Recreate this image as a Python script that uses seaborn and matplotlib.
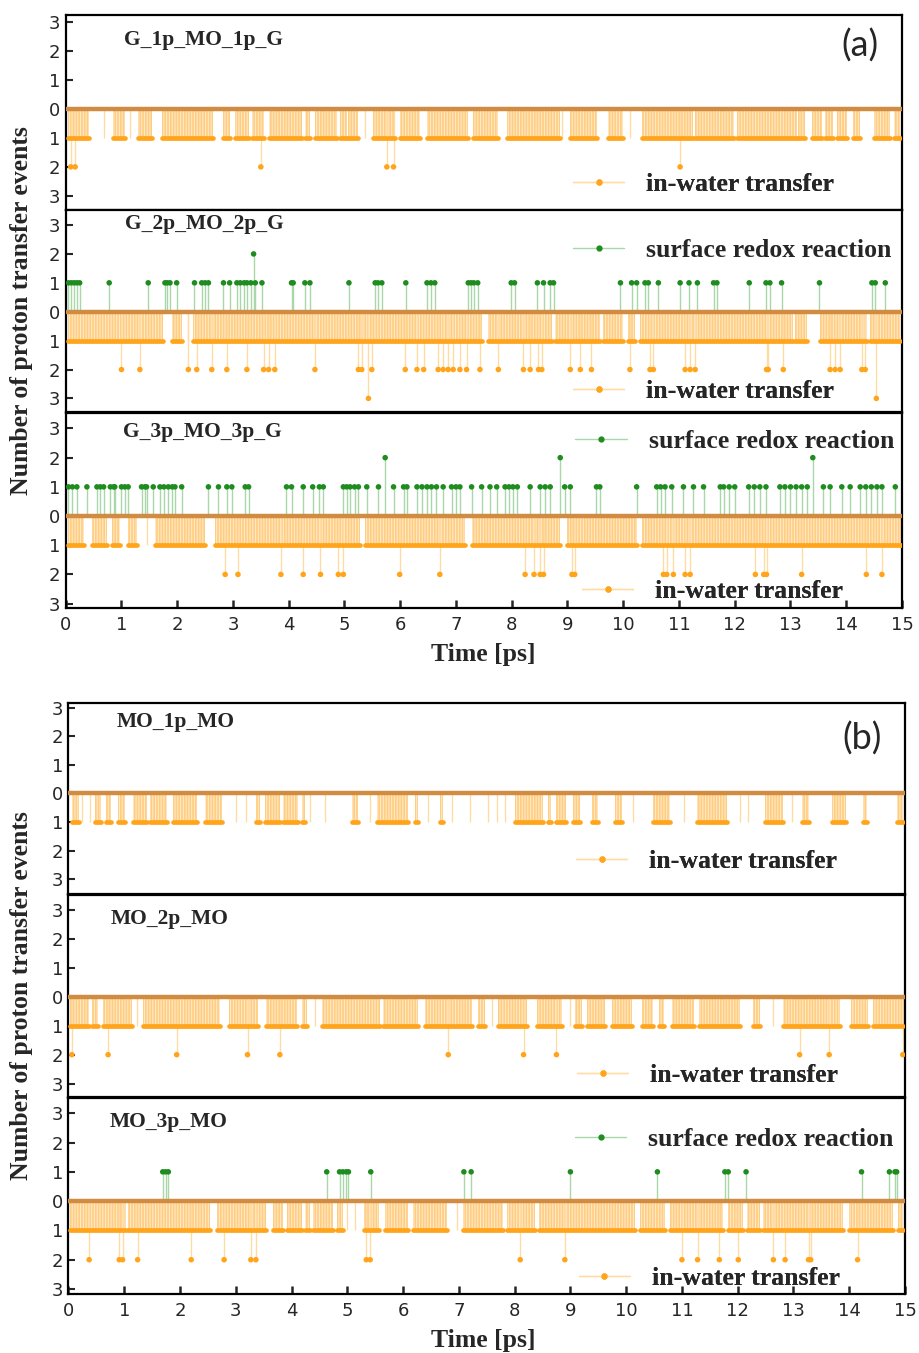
import matplotlib
matplotlib.use("Agg")
import matplotlib.pyplot as plt
from matplotlib.lines import Line2D
from matplotlib.font_manager import FontProperties
import numpy as np
import seaborn as sns

# ---------------------------------------------------------------------------
# data (times in ps)
# runs of consecutive single in-water transfers (start, end); start == end is a lone event
a1_water_runs = [(0.05, 0.41), (0.69, 0.69), (0.85, 1.06), (1.15, 1.15), (1.30, 1.54), (1.72, 2.65),
                 (2.82, 2.95), (3.04, 3.28), (3.34, 3.55), (3.64, 4.23), (4.29, 4.38), (4.47, 4.86),
                 (4.92, 5.04), (5.07, 5.25), (5.37, 5.37), (5.52, 5.91), (6.00, 6.36), (6.48, 7.22),
                 (7.31, 7.76), (7.91, 8.87), (8.90, 8.90), (9.05, 9.53), (9.73, 10.00), (10.12, 10.12),
                 (10.33, 11.26), (11.29, 11.98), (12.04, 13.11), (13.14, 13.26), (13.38, 13.56),
                 (13.62, 13.77), (13.83, 14.01), (14.13, 14.25), (14.49, 14.79), (14.85, 14.97)]
a1_water_2 = [0.09, 0.17, 3.50, 5.76, 5.88, 11.02]
a1_water_3 = []
a1_redox_1 = []
a1_redox_2 = []

a2_water_runs = [(0.05, 1.75), (1.90, 2.08), (2.20, 2.20), (2.29, 7.46), (7.58, 8.72), (8.78, 9.58),
                 (9.64, 10.00), (10.09, 10.21), (10.30, 13.05), (13.08, 13.29), (13.53, 14.37),
                 (14.43, 14.96)]
a2_water_2 = [1.00, 1.33, 2.20, 2.35, 2.62, 2.89, 3.25, 3.55, 3.64, 3.75, 4.47, 5.25, 5.31, 5.49,
              6.09, 6.30, 6.42, 6.68, 6.77, 6.86, 6.95, 7.07, 7.19, 7.43, 7.76, 8.21, 8.33, 8.48,
              8.54, 9.05, 9.23, 9.43, 10.12, 10.48, 10.54, 11.11, 11.20, 11.29, 12.57, 12.60,
              12.87, 13.71, 13.80, 13.89, 14.28, 14.34]
a2_water_3 = [5.43, 14.54]
a2_redox_1 = [0.05, 0.10, 0.15, 0.20, 0.25, 0.78, 1.48, 1.78, 1.82, 1.87, 1.99, 2.31, 2.44, 2.50,
              2.56, 2.83, 2.94, 3.07, 3.13, 3.20, 3.25, 3.32, 3.40, 3.52, 4.05, 4.08, 4.29, 4.38,
              5.08, 5.55, 5.60, 5.67, 6.10, 6.48, 6.55, 6.62, 7.22, 7.27, 7.32, 7.39, 7.99, 8.05,
              8.46, 8.57, 8.69, 8.75, 9.95, 10.15, 10.24, 10.39, 10.45, 10.63, 11.02, 11.18, 11.33,
              11.62, 11.68, 12.26, 12.56, 12.63, 12.84, 13.52, 14.46, 14.52, 14.70]
a2_redox_2 = [3.37]

a3_water_runs = [(0.05, 0.32), (0.47, 0.74), (0.83, 0.97), (1.12, 1.27), (1.45, 1.45), (1.60, 2.50),
                 (2.68, 5.28), (5.37, 7.16), (7.28, 8.87), (9.00, 10.24), (10.33, 15.00)]
a3_water_2 = [2.86, 3.09, 3.86, 4.26, 4.57, 4.89, 4.98, 5.99, 6.71, 8.24, 8.40, 8.51, 8.57, 9.08,
              9.13, 10.72, 10.78, 10.90, 11.11, 11.20, 12.37, 12.52, 12.57, 13.20, 14.36, 14.64]
a3_water_3 = []
a3_redox_1 = [0.05, 0.12, 0.20, 0.38, 0.56, 0.62, 0.68, 0.80, 0.86, 0.88, 1.00, 1.06, 1.12, 1.36,
              1.42, 1.45, 1.57, 1.69, 1.76, 1.84, 1.91, 1.96, 2.08, 2.56, 2.74, 2.89, 2.98, 3.22,
              3.28, 3.96, 4.05, 4.26, 4.43, 4.55, 4.62, 4.98, 5.04, 5.10, 5.18, 5.25, 5.40, 5.61,
              5.88, 6.06, 6.12, 6.30, 6.39, 6.48, 6.56, 6.65, 6.77, 6.92, 7.00, 7.07, 7.28, 7.46,
              7.61, 7.73, 7.88, 7.95, 8.02, 8.10, 8.33, 8.51, 8.60, 8.69, 8.95, 9.05, 9.52, 9.58,
              10.24, 10.60, 10.67, 10.75, 10.87, 11.08, 11.26, 11.44, 11.74, 11.80, 11.90, 12.00,
              12.25, 12.35, 12.45, 12.56, 12.81, 12.90, 13.00, 13.10, 13.20, 13.30, 13.59, 13.71,
              13.92, 14.07, 14.25, 14.35, 14.45, 14.55, 14.64, 14.88]
a3_redox_2 = [5.73, 8.87, 13.40]

b1_water_runs = [(0.06, 0.18), (0.24, 0.24), (0.39, 0.39), (0.48, 0.59), (0.68, 0.77), (0.89, 1.01),
                 (1.16, 1.40), (1.46, 1.76), (1.88, 2.30), (2.45, 2.75), (3.00, 3.00), (3.18, 3.18),
                 (3.37, 3.43), (3.52, 3.79), (3.85, 4.12), (4.18, 4.24), (4.33, 4.33), (4.60, 4.60),
                 (5.08, 5.20), (5.40, 5.40), (5.53, 6.09), (6.21, 6.27), (6.45, 6.45), (6.66, 6.72),
                 (6.87, 6.87), (7.20, 7.20), (7.53, 7.53), (7.68, 7.68), (7.83, 7.83), (8.01, 8.51),
                 (8.60, 8.66), (8.75, 8.93), (9.05, 9.17), (9.38, 9.50), (9.80, 9.92), (10.13, 10.13),
                 (10.49, 10.79), (11.03, 11.03), (11.27, 11.80), (12.04, 12.04), (12.19, 12.19),
                 (12.49, 12.82), (12.97, 12.97), (13.15, 13.27), (13.69, 13.95), (14.25, 14.31),
                 (14.85, 14.97)]
b1_water_2 = []
b1_water_3 = []
b1_redox_1 = []
b1_redox_2 = []

b2_water_runs = [(0.03, 0.36), (0.42, 0.53), (0.62, 1.13), (1.22, 1.22), (1.34, 2.72), (2.87, 3.40),
                 (3.55, 4.09), (4.18, 4.27), (4.42, 4.42), (4.54, 5.59), (5.64, 6.27), (6.39, 7.23),
                 (7.35, 7.47), (7.59, 7.59), (7.71, 8.22), (8.40, 8.85), (9.00, 9.00), (9.08, 9.20),
                 (9.29, 9.62), (9.74, 10.10), (10.28, 10.49), (10.58, 10.67), (10.82, 11.21),
                 (11.30, 12.04), (12.28, 12.40), (12.64, 12.64), (12.82, 13.84), (14.04, 14.34),
                 (14.43, 14.97)]
b2_water_2 = [0.06, 0.71, 1.94, 3.21, 3.79, 6.81, 8.16, 8.75, 13.11, 13.64, 14.96]
b2_water_3 = []
b2_redox_1 = []
b2_redox_2 = []

b3_water_runs = [(0.03, 1.04), (1.07, 2.54), (2.66, 3.55), (3.67, 3.85), (3.91, 4.18), (4.24, 4.33),
                 (4.39, 4.75), (4.81, 4.93), (4.99, 4.99), (5.14, 5.14), (5.29, 5.56), (5.68, 6.09),
                 (6.18, 6.78), (6.96, 6.96), (7.08, 7.80), (7.86, 8.37), (8.43, 10.16), (10.25, 10.70),
                 (10.79, 11.74), (11.83, 12.10), (12.16, 12.40), (12.46, 13.89), (14.00, 14.79),
                 (14.88, 14.97)]
b3_water_2 = [0.37, 0.91, 0.97, 1.24, 2.20, 2.79, 3.27, 3.36, 5.34, 5.41, 8.10, 8.90, 11.00, 11.28,
              11.67, 12.01, 12.64, 12.85, 13.27, 13.31, 14.15]
b3_water_3 = []
b3_redox_1 = [1.69, 1.74, 1.79, 4.63, 4.86, 4.92, 4.98, 5.02, 5.42, 7.09, 7.22, 9.00, 10.56, 11.77,
              11.83, 12.15, 14.22, 14.72, 14.82, 14.85]
b3_redox_2 = []

panel_titles = ["G_1p_MO_1p_G", "G_2p_MO_2p_G", "G_3p_MO_3p_G",
                "MO_1p_MO", "MO_2p_MO", "MO_3p_MO"]
x_ticks = list(range(0, 16))
y_ticks = [-3, -2, -1, 0, 1, 2, 3]

# ---------------------------------------------------------------------------
# style
sns.set_style("ticks")
plt.rcParams["font.family"] = ["DejaVu Sans"]
plt.rcParams["hatch.linewidth"] = 1.2

ORANGE = "#ffa41b"
ORANGE_LIGHT = "#ffdca6"
STEM_FACE = "#ffe9c8"
STEM_HATCH = "#ffcd80"
ZERO_LINE = "#d08c42"
GREEN = "#1f8c1f"
GREEN_LIGHT = "#a9d7a9"
SERIF_B = FontProperties(family="Liberation Serif", weight="bold", size=18.5)
TITLE_B = FontProperties(family="Liberation Serif", weight="bold", size=15.5)

W, H = 920, 1353
fig = plt.figure(figsize=(W / 100, H / 100), dpi=100)


def add_axes_px(left, top, right, bottom):
    return fig.add_axes([left / W, 1 - bottom / H, (right - left) / W, (bottom - top) / H])


def draw_panel(ax, runs, w2, w3, r1, r2, title, title_xy, ylim, legends, bottom):
    # light stems of the single transfers
    for s, e in runs:
        if e > s:
            ax.fill_between([s, e], 0, -1, facecolor=STEM_FACE, edgecolor=STEM_HATCH,
                            hatch="||||||", lw=0, zorder=1)
        else:
            ax.vlines(s, -1, 0, color=ORANGE_LIGHT, lw=1, zorder=1)
    if w2:
        ax.vlines(w2, -2, 0, color=ORANGE_LIGHT, lw=1, zorder=1)
    if w3:
        ax.vlines(w3, -3, 0, color=ORANGE_LIGHT, lw=1, zorder=1)
    if r1:
        ax.vlines(r1, 0, 1, color=GREEN_LIGHT, lw=1, zorder=1)
    if r2:
        ax.vlines(r2, 0, 2, color=GREEN_LIGHT, lw=1, zorder=1)

    ax.axhline(0, color=ZERO_LINE, lw=3.2, zorder=3)

    lc = ax.hlines([-1] * len(runs), [s for s, e in runs], [e for s, e in runs],
                   color=ORANGE, lw=3.4, zorder=4)
    lc.set_capstyle("round")

    for ts, lev, col in [(w2, -2, ORANGE), (w3, -3, ORANGE), (r1, 1, GREEN), (r2, 2, GREEN)]:
        if ts:
            sns.scatterplot(x=ts, y=[lev] * len(ts), color=col, s=16, edgecolor="none",
                            ax=ax, legend=False, zorder=5)

    ax.set_xlim(0, 15)
    ax.set_ylim(*ylim)
    ax.set_yticks(y_ticks)
    ax.set_yticklabels([str(abs(v)) for v in y_ticks], fontsize=13)
    ax.set_xticks(x_ticks)
    ax.set_xticklabels([str(v) for v in x_ticks], fontsize=13)
    ax.tick_params(axis="y", direction="in", length=5, width=1.5, pad=4)
    ax.tick_params(axis="x", direction="in", length=6, width=1.8, pad=6,
                   bottom=bottom, labelbottom=bottom)
    for sp in ax.spines.values():
        sp.set_visible(True)
        sp.set_linewidth(1.6)
        sp.set_color("black")
    ax.set_xlabel("")
    ax.set_ylabel("")

    ax.text(title_xy[0], title_xy[1], title, fontproperties=TITLE_B, va="center", ha="left")

    for kind, (lx, ly) in legends:
        if kind == "redox":
            h = Line2D([], [], color=GREEN_LIGHT, lw=1, marker="o", ms=3.5,
                       mfc=GREEN, mec=GREEN)
            lab = "surface redox reaction"
        else:
            h = Line2D([], [], color=ORANGE_LIGHT, lw=1, marker="o", ms=3.5,
                       mfc=ORANGE, mec=ORANGE)
            lab = "in-water transfer"
        leg = ax.legend([h], [lab], loc="center left", bbox_to_anchor=(lx, ly),
                        bbox_transform=ax.transData, frameon=False, prop=SERIF_B,
                        borderpad=0, borderaxespad=0, handlelength=2.0, handletextpad=0.85)
        ax.add_artist(leg)


panels = [
    (a1_water_runs, a1_water_2, a1_water_3, a1_redox_1, a1_redox_2),
    (a2_water_runs, a2_water_2, a2_water_3, a2_redox_1, a2_redox_2),
    (a3_water_runs, a3_water_2, a3_water_3, a3_redox_1, a3_redox_2),
    (b1_water_runs, b1_water_2, b1_water_3, b1_redox_1, b1_redox_2),
    (b2_water_runs, b2_water_2, b2_water_3, b2_redox_1, b2_redox_2),
    (b3_water_runs, b3_water_2, b3_water_3, b3_redox_1, b3_redox_2),
]

# layout in pixels: left, top, right, bottom
boxes = [(65.7, 15, 902, 210), (65.7, 210, 902, 412), (65.7, 413, 902, 608),
         (68.5, 703, 905, 894), (68.5, 895, 905, 1097), (68.5, 1098, 905, 1294)]
ylims = [(-3.49, 3.25), (-3.47, 3.52), (-3.15, 3.53),
         (-3.52, 3.16), (-3.46, 3.51), (-3.17, 3.52)]
title_pos = [(1.05, 2.39), (1.06, 3.04), (1.03, 2.88), (0.87, 2.48), (0.76, 2.68), (0.74, 2.70)]
legend_pos = [
    [("water", (9.10, -2.60))],
    [("redox", (9.10, 2.11)), ("water", (9.10, -2.77))],
    [("redox", (9.14, 2.57)), ("water", (9.26, -2.60))],
    [("water", (9.10, -2.38))],
    [("water", (9.12, -2.73))],
    [("redox", (9.08, 2.12)), ("water", (9.15, -2.63))],
]

axes = []
for i, data in enumerate(panels):
    ax = add_axes_px(*boxes[i])
    draw_panel(ax, *data, panel_titles[i], title_pos[i], ylims[i], legend_pos[i],
               bottom=(i in (2, 5)))
    axes.append(ax)

axes[0].text(14.25, 2.21, "(a)", fontsize=26, family="Lato", ha="center", va="center")
axes[3].text(14.23, 1.92, "(b)", fontsize=26, family="Lato", ha="center", va="center")

for yc, ylab_y in [(655, 311), (1340, 996)]:
    fig.text(483 / W, 1 - yc / H, "Time [ps]", fontproperties=SERIF_B, ha="center", va="center")
    fig.text(22 / W, 1 - ylab_y / H, "Number of proton transfer events", fontproperties=SERIF_B,
             rotation=90, ha="center", va="center")

fig.savefig("out.png", dpi=100)
